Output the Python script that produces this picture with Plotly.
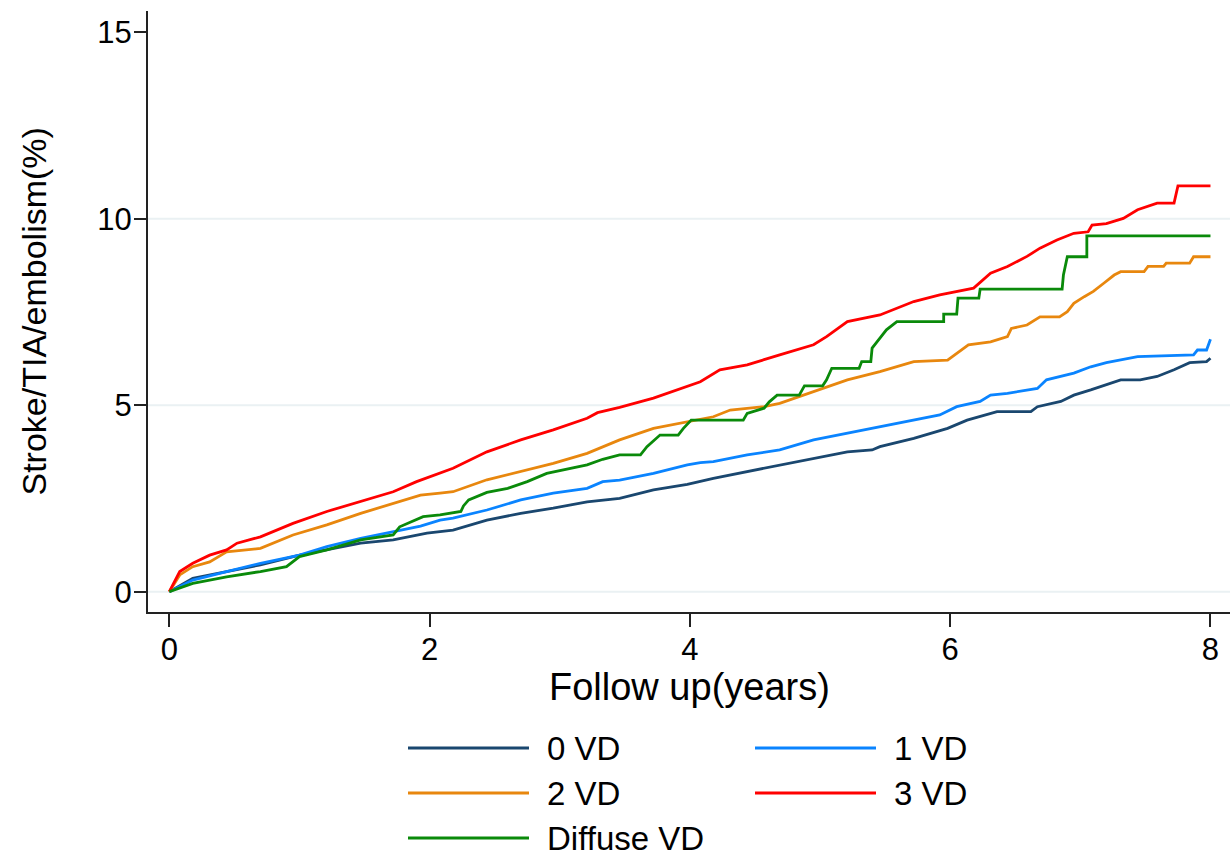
import plotly.graph_objects as go

# ---------------- data ----------------
series_names = ["0 VD", "1 VD", "2 VD", "3 VD", "Diffuse VD"]
series_colors = ["#1a476f", "#0a84ff", "#e8870e", "#ff0000", "#0a8a0a"]

t_0vd = [0, 0.18, 0.44, 0.70, 1.0, 1.21, 1.47, 1.72, 1.98, 2.18, 2.44, 2.70, 2.95, 3.21, 3.46,
         3.72, 3.98, 4.18, 4.44, 4.69, 4.95, 5.21, 5.40, 5.46, 5.72, 5.98, 6.13, 6.36, 6.62, 6.67,
         6.85, 6.95, 7.08, 7.20, 7.31, 7.46, 7.59, 7.72, 7.84, 7.97, 8.0]
v_0vd = [0, 0.36, 0.54, 0.72, 0.98, 1.12, 1.30, 1.39, 1.57, 1.65, 1.92, 2.10, 2.24, 2.41, 2.50,
         2.73, 2.88, 3.04, 3.22, 3.40, 3.58, 3.75, 3.80, 3.89, 4.11, 4.38, 4.60, 4.83, 4.83, 4.96,
         5.10, 5.27, 5.41, 5.54, 5.68, 5.68, 5.77, 5.95, 6.14, 6.17, 6.26]

t_1vd = [0, 0.18, 0.44, 0.70, 1.0, 1.21, 1.47, 1.72, 1.93, 2.08, 2.18, 2.44, 2.70, 2.95, 3.21,
         3.33, 3.46, 3.72, 3.98, 4.08, 4.18, 4.44, 4.69, 4.95, 5.21, 5.46, 5.72, 5.92, 6.05, 6.23,
         6.31, 6.44, 6.67, 6.74, 6.95, 7.08, 7.20, 7.36, 7.44, 7.87, 7.90, 7.97, 8.0]
v_1vd = [0, 0.31, 0.54, 0.76, 0.98, 1.21, 1.43, 1.61, 1.76, 1.92, 1.97, 2.19, 2.46, 2.64, 2.77,
         2.95, 2.99, 3.17, 3.40, 3.46, 3.49, 3.67, 3.80, 4.07, 4.25, 4.42, 4.60, 4.74, 4.96, 5.10,
         5.27, 5.32, 5.45, 5.68, 5.86, 6.03, 6.14, 6.26, 6.30, 6.35, 6.48, 6.48, 6.77]

t_2vd = [0, 0.08, 0.18, 0.31, 0.44, 0.70, 0.95, 1.21, 1.47, 1.72, 1.93, 2.08, 2.18, 2.44, 2.70,
         2.95, 3.21, 3.46, 3.72, 3.98, 4.08, 4.18, 4.31, 4.57, 4.69, 4.95, 5.21, 5.46, 5.72, 5.98,
         6.05, 6.14, 6.31, 6.44, 6.47, 6.59, 6.69, 6.84, 6.90, 6.95, 7.03, 7.10, 7.18, 7.26, 7.31,
         7.49, 7.52, 7.64, 7.66, 7.84, 7.87, 8.0]
v_2vd = [0, 0.45, 0.67, 0.80, 1.07, 1.16, 1.52, 1.79, 2.10, 2.37, 2.59, 2.64, 2.68, 3.00, 3.22,
         3.44, 3.71, 4.07, 4.38, 4.56, 4.62, 4.69, 4.87, 4.96, 5.05, 5.36, 5.68, 5.90, 6.17, 6.21,
         6.39, 6.62, 6.70, 6.84, 7.06, 7.15, 7.37, 7.37, 7.51, 7.73, 7.91, 8.05, 8.27, 8.49, 8.58,
         8.58, 8.72, 8.72, 8.81, 8.81, 8.98, 8.98]

t_3vd = [0, 0.08, 0.18, 0.31, 0.44, 0.52, 0.70, 0.95, 1.21, 1.47, 1.72, 1.90, 2.08, 2.18, 2.44,
         2.70, 2.95, 3.21, 3.29, 3.46, 3.72, 3.98, 4.08, 4.23, 4.44, 4.69, 4.95, 5.05, 5.21, 5.46,
         5.72, 5.92, 6.08, 6.18, 6.31, 6.44, 6.59, 6.69, 6.82, 6.95, 7.06, 7.09, 7.20, 7.33, 7.44,
         7.59, 7.72, 7.74, 7.75, 8.0]
v_3vd = [0, 0.54, 0.76, 0.98, 1.12, 1.30, 1.47, 1.83, 2.15, 2.41, 2.68, 2.95, 3.19, 3.31, 3.75,
         4.07, 4.34, 4.65, 4.80, 4.94, 5.19, 5.50, 5.63, 5.95, 6.08, 6.35, 6.62, 6.84, 7.24, 7.42,
         7.78, 7.96, 8.07, 8.14, 8.54, 8.72, 8.99, 9.21, 9.43, 9.61, 9.65, 9.83, 9.87, 10.01, 10.24,
         10.42, 10.42, 10.68, 10.88, 10.88]

# Diffuse VD: (time, value) pairs, big steps given as vertical jumps
dvd_points = [(0, 0), (0.18, 0.22), (0.44, 0.40), (0.70, 0.54), (0.90, 0.67), (1.0, 0.94),
              (1.21, 1.12), (1.47, 1.39), (1.72, 1.52), (1.77, 1.74), (1.95, 2.01), (2.08, 2.06),
              (2.24, 2.15), (2.26, 2.30), (2.30, 2.46), (2.44, 2.66), (2.60, 2.77), (2.75, 2.95),
              (2.90, 3.17), (3.21, 3.40), (3.33, 3.55), (3.46, 3.67), (3.62, 3.67), (3.67, 3.89),
              (3.77, 4.20), (3.91, 4.20), (3.95, 4.38), (4.01, 4.60), (4.41, 4.60), (4.44, 4.78),
              (4.57, 4.92), (4.61, 5.09), (4.67, 5.27), (4.84, 5.27), (4.88, 5.52), (5.02, 5.52),
              (5.05, 5.68), (5.09, 5.99), (5.30, 5.99), (5.32, 6.17), (5.39, 6.17), (5.40, 6.53),
              (5.46, 6.80), (5.51, 7.02), (5.59, 7.24), (5.95, 7.24), (5.95, 7.44), (6.05, 7.44),
              (6.06, 7.87), (6.22, 7.87), (6.23, 8.11), (6.86, 8.11), (6.87, 8.49), (6.90, 8.98),
              (7.05, 8.98), (7.05, 9.54), (8.0, 9.54)]
t_dvd = [p[0] for p in dvd_points]
v_dvd = [p[1] for p in dvd_points]

x_ticks = [0, 2, 4, 6, 8]
y_ticks = [0, 5, 10, 15]
grid_values = [0, 5, 10]
x_title = "Follow up(years)"
y_title = "Stroke/TIA/embolism(%)"

# ---------------- figure ----------------
FONT = "Liberation Sans, Arial, sans-serif"
W, H = 1231, 858
L, R, T, B = 148, 1, 11, 246
PW, PH = W - L - R, H - T - B

xs = [t_0vd, t_1vd, t_2vd, t_3vd, t_dvd]
ys = [v_0vd, v_1vd, v_2vd, v_3vd, v_dvd]

fig = go.Figure()
for i in range(5):
    fig.add_trace(go.Scatter(x=xs[i], y=ys[i], mode="lines", name=series_names[i],
                             line=dict(color=series_colors[i], width=2.8),
                             showlegend=False))

shapes = []
for g in grid_values:
    shapes.append(dict(type="line", xref="paper", x0=0, x1=1, yref="y", y0=g, y1=g,
                       line=dict(color="#eaf1f3", width=2), layer="below"))


def px_x(px):
    return (px - L) / PW


def px_y(py):
    return (H - B - py) / PH


annotations = []
legend_pos = [(408, 529, 545, 748), (755, 876, 892, 748),
              (408, 529, 545, 793), (755, 876, 892, 793),
              (408, 529, 545, 838)]
for (x0, x1, xt, yy), idx in zip(legend_pos, range(5)):
    shapes.append(dict(type="line", xref="paper", yref="paper",
                       x0=px_x(x0), x1=px_x(x1), y0=px_y(yy), y1=px_y(yy),
                       line=dict(color=series_colors[idx], width=3)))
    annotations.append(dict(xref="paper", yref="paper", x=px_x(xt), y=px_y(yy),
                            xanchor="left", yanchor="middle", showarrow=False,
                            text=series_names[idx], font=dict(family=FONT, size=33, color="#000")))

annotations.append(dict(xref="paper", yref="paper", x=px_x(33), y=0.5, textangle=-90,
                        xanchor="center", yanchor="middle", showarrow=False, text=y_title,
                        font=dict(family=FONT, size=34, color="#000")))
annotations.append(dict(xref="paper", yref="paper", x=0.5, y=px_y(687),
                        xanchor="center", yanchor="middle", showarrow=False, text=x_title,
                        font=dict(family=FONT, size=38, color="#000")))

fig.update_layout(
    width=W, height=H,
    margin=dict(l=L, r=R, t=T, b=B, pad=0),
    paper_bgcolor="white", plot_bgcolor="white",
    showlegend=False,
    shapes=shapes, annotations=annotations,
    font=dict(family=FONT, size=30, color="#000"),
)
fig.update_xaxes(range=[-0.164, 8.15], tickvals=x_ticks, ticks="outside", ticklen=13,
                 tickwidth=2, tickcolor="#222", showline=True, linecolor="#222", linewidth=2,
                 showgrid=False, zeroline=False, ticklabelstandoff=-4,
                 tickfont=dict(family=FONT, size=31, color="#000"))
fig.update_yaxes(range=[-0.545, 15.57], tickvals=y_ticks, ticks="outside", ticklen=12,
                 tickwidth=2, tickcolor="#222", showline=True, linecolor="#222", linewidth=2,
                 showgrid=False, zeroline=False, ticklabelstandoff=-4,
                 tickfont=dict(family=FONT, size=31, color="#000"))

fig.write_html("out.html", config={"displayModeBar": False},
               post_script="document.body.style.margin='0px';")
